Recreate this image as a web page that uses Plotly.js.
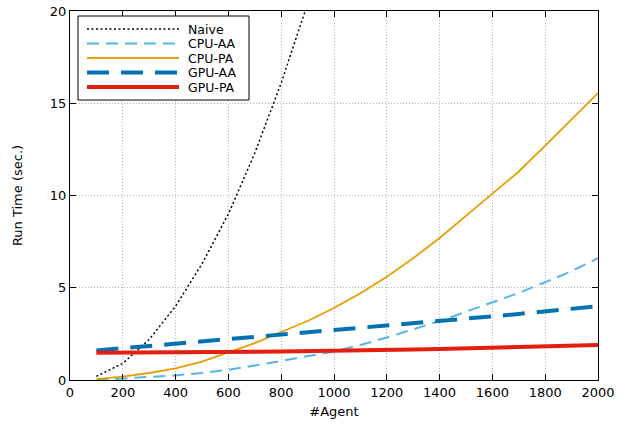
<!DOCTYPE html>
<html>
<head>
<meta charset="utf-8">
<script src="https://cdn.plot.ly/plotly-3.0.1.min.js"></script>
<style>html,body{margin:0;padding:0;background:#fff;}#chart{width:631px;height:425px;}</style>
</head>
<body>
<div id="chart"></div>
<script>
const agents = [100,200,300,400,500,600,700,800,900,1000,1100,1200,1300,1400,1500,1600,1700,1800,1900,2000];
const naiveX = [100,200,300,400,500,600,700,800,900,1000];
const naive = [0.2,0.9,2.2,4.0,6.3,9.0,12.3,16.1,20.4,25.2];
const cpuAA = [0.0,0.08,0.15,0.25,0.38,0.55,0.78,1.03,1.28,1.55,1.9,2.3,2.75,3.2,3.7,4.2,4.72,5.3,5.9,6.6];
const cpuPA = [0.05,0.18,0.38,0.63,1.0,1.5,2.0,2.6,3.2,3.9,4.7,5.6,6.6,7.7,8.9,10.15,11.3,12.7,14.1,15.55];
const gpuAA = [1.6,1.72,1.85,1.97,2.09,2.21,2.33,2.45,2.57,2.7,2.82,2.94,3.07,3.2,3.32,3.45,3.58,3.71,3.85,4.0];
const gpuPA = [1.48,1.48,1.49,1.49,1.5,1.51,1.53,1.55,1.56,1.58,1.6,1.62,1.65,1.68,1.72,1.75,1.79,1.83,1.86,1.9];
const seriesNames = ["Naive","CPU-AA","CPU-PA","GPU-AA","GPU-PA"];

const styles = [
  {color: "#000000", width: 1.5, dash: "2px,2.5px"},
  {color: "#56B4E9", width: 2, dash: "12px,7px"},
  {color: "#E69F00", width: 1.8, dash: "solid"},
  {color: "#0072B2", width: 4, dash: "22px,12px"},
  {color: "#E51E10", width: 4, dash: "solid"}
];
const xs = [naiveX, agents, agents, agents, agents];
const ys = [naive, cpuAA, cpuPA, gpuAA, gpuPA];

const traces = seriesNames.map((n, i) => ({
  x: xs[i], y: ys[i], name: n, mode: "lines", line: styles[i], showlegend: false
}));

// plot area in pixels (for legend box placement)
const W = 631, H = 425, L = 70, R = 33, T = 11, B = 45;
const pw = W - L - R, ph = H - T - B;
const px = v => (v - L) / pw;
const py = v => 1 - (v - T) / ph;

const shapes = [{type: "rect", xref: "paper", yref: "paper",
  x0: px(78), x1: px(249), y0: py(16), y1: py(100),
  line: {color: "#000", width: 1}, fillcolor: "#fff", layer: "above"}];
const annotations = [];
seriesNames.forEach((n, i) => {
  const yc = 29 + i * 14.5;
  shapes.push({type: "line", xref: "paper", yref: "paper",
    x0: px(87), x1: px(179), y0: py(yc), y1: py(yc),
    line: {color: styles[i].color, width: styles[i].width, dash: styles[i].dash}, layer: "above"});
  annotations.push({xref: "paper", yref: "paper", x: px(187), y: py(yc),
    xanchor: "left", yanchor: "middle", text: n, showarrow: false,
    borderpad: 0, valign: "middle",
    font: {family: "DejaVu Sans", size: 12.5, color: "#000"}});
});

const axisCommon = {
  showline: true, linecolor: "#000", linewidth: 1, mirror: "allticks",
  ticks: "inside", ticklen: 6, tickcolor: "#000", tickwidth: 1,
  showgrid: true, gridcolor: "#b4b4b4", gridwidth: 1, griddash: "1px,2px",
  zeroline: false, tickfont: {family: "DejaVu Sans", size: 13, color: "#000"}
};

const layout = {
  width: W, height: H,
  margin: {l: L, r: R, t: T, b: B},
  paper_bgcolor: "#fff", plot_bgcolor: "#fff",
  font: {family: "DejaVu Sans", size: 13, color: "#000"},
  xaxis: Object.assign({}, axisCommon, {range: [0, 2000], dtick: 200, tick0: 0,
    title: {text: "#Agent", font: {family: "DejaVu Sans", size: 13}, standoff: 8}}),
  yaxis: Object.assign({}, axisCommon, {range: [0, 20], dtick: 5, tick0: 0,
    title: {text: "Run Time (sec.)", font: {family: "DejaVu Sans", size: 13}, standoff: 24}}),
  showlegend: false,
  shapes: shapes,
  annotations: annotations
};

Plotly.newPlot("chart", traces, layout, {displayModeBar: false, staticPlot: true});
</script>
</body>
</html>
